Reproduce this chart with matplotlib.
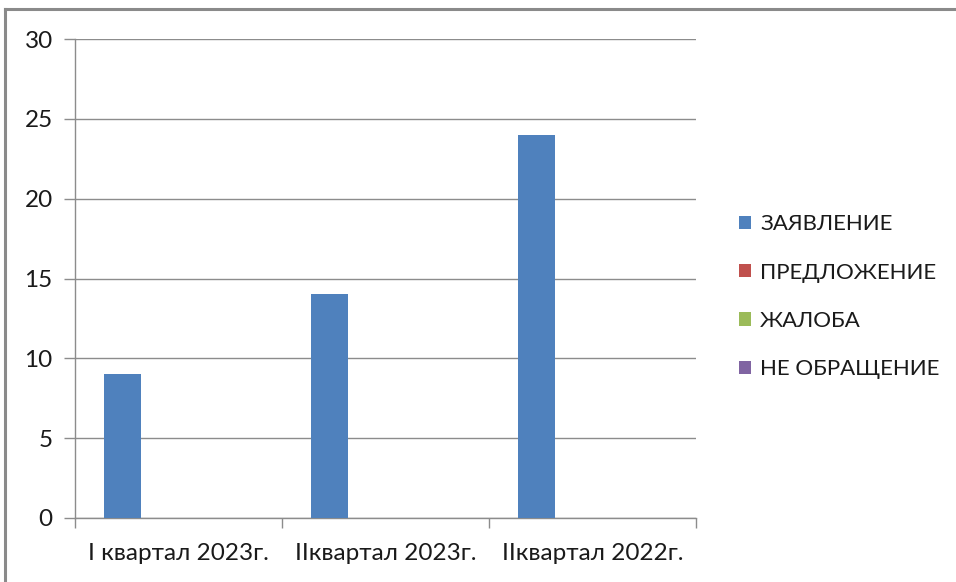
import numpy as np
import matplotlib
matplotlib.use("Agg")
import matplotlib.pyplot as plt
from matplotlib.patches import Patch
from matplotlib.lines import Line2D

# data
categories = ["I квартал 2023г.", "IIквартал 2023г.", "IIквартал 2022г."]
series_names = ["ЗАЯВЛЕНИЕ", "ПРЕДЛОЖЕНИЕ", "ЖАЛОБА", "НЕ ОБРАЩЕНИЕ"]
zayavlenie = [9, 14, 24]
predlozhenie = [0, 0, 0]
zhaloba = [0, 0, 0]
ne_obraschenie = [0, 0, 0]
colors = ["#4F81BD", "#C0504D", "#9BBB59", "#8064A2"]

plt.rcParams['font.family'] = ['Lato', 'DejaVu Sans']

fig = plt.figure(figsize=(9.56, 5.82), dpi=100)
ax = fig.add_axes([75 / 956, 1 - 518 / 582, (696 - 75) / 956, (518 - 39) / 582])

x = np.arange(len(categories))
w = 0.179
all_series = [zayavlenie, predlozhenie, zhaloba, ne_obraschenie]
for k, (vals, col) in enumerate(zip(all_series, colors)):
    ax.bar(x + (k - 1.5) * w, vals, width=w, color=col, zorder=3)

ax.set_xlim(-0.5, len(categories) - 0.5)
ax.set_ylim(0, 30)
ax.set_yticks(np.arange(0, 31, 5))
ax.yaxis.grid(True, color="#8c8c8c", linewidth=1.0, zorder=0)
ax.set_axisbelow(True)

ax.set_xticks(x)
ax.set_xticklabels(categories)
ax.set_xticks(np.arange(-0.5, len(categories)), minor=True)
ax.tick_params(axis='x', which='major', length=0, pad=18, labelsize=17.5, colors="#1a1a1a")
ax.tick_params(axis='x', which='minor', length=7, width=1.0, color="#8c8c8c")
ax.tick_params(axis='y', length=8, width=1.0, color="#8c8c8c", pad=8, labelsize=17.5, labelcolor="#1a1a1a")

for s in ["top", "right"]:
    ax.spines[s].set_visible(False)
for s in ["left", "bottom"]:
    ax.spines[s].set_color("#8c8c8c")
    ax.spines[s].set_linewidth(1.0)

handles = [Patch(facecolor=c, edgecolor='none') for c in colors]
fig.legend(handles, series_names, loc="center left", bbox_to_anchor=(0.752, 0.49),
           frameon=False, fontsize=16, handlelength=0.55, handleheight=0.55,
           handletextpad=0.4, labelspacing=1.28, labelcolor="#1a1a1a")

# outer chart border (top and left visible)
fig.add_artist(Line2D([5 / 956, 5 / 956], [0, 1 - 9 / 582], transform=fig.transFigure,
                      color="#8a8a8a", linewidth=2.2))
fig.add_artist(Line2D([5 / 956, 1], [1 - 9 / 582, 1 - 9 / 582], transform=fig.transFigure,
                      color="#8a8a8a", linewidth=2.2))

fig.savefig("out.png", dpi=100)
